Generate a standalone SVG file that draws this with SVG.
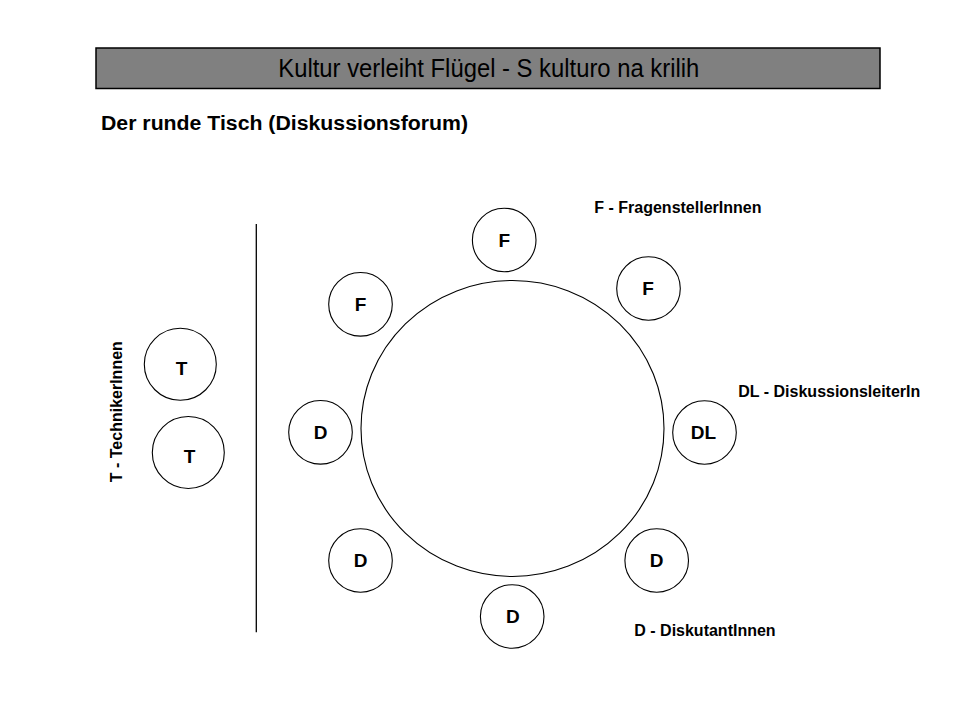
<svg xmlns="http://www.w3.org/2000/svg" width="960" height="720" viewBox="0 0 960 720">
  <style>
    .seat { fill: #ffffff; stroke: #000000; stroke-width: 1.1; }
    .table { fill: #ffffff; stroke: #000000; stroke-width: 1.1; }
    .lbl { font-family: "Liberation Sans", Arial, sans-serif; font-weight: bold; font-size: 19px; fill: #000000; text-anchor: middle; }
    .legend { font-family: "Liberation Sans", Arial, sans-serif; font-weight: bold; font-size: 16px; fill: #000000; }
  </style>
  <rect width="960" height="720" fill="#ffffff"/>

  <g id="title">
    <rect x="96" y="48" width="784" height="40.5" fill="#808080" stroke="#000000" stroke-width="1.5"/>
    <text x="488.8" y="76.7" font-family="Liberation Sans, Arial, sans-serif" font-size="26" fill="#000000" text-anchor="middle" textLength="421" lengthAdjust="spacingAndGlyphs">Kultur verleiht Flügel - S kulturo na krilih</text>
  </g>

  <g id="subtitle">
    <text x="101" y="129.5" font-family="Liberation Sans, Arial, sans-serif" font-weight="bold" font-size="20" fill="#000000" textLength="367" lengthAdjust="spacingAndGlyphs">Der runde Tisch (Diskussionsforum)</text>
  </g>

  <g id="divider">
    <line x1="256.3" y1="224" x2="256.3" y2="632.3" stroke="#000000" stroke-width="1.3"/>
  </g>

  <g id="table">
    <ellipse class="table" cx="512.5" cy="428.5" rx="151.5" ry="148"/>
  </g>

  <g id="seat-f-top">
    <circle class="seat" cx="504.2" cy="240" r="31.8"/>
    <text class="lbl" x="504.2" y="247.2">F</text>
  </g>
  <g id="seat-f-left">
    <circle class="seat" cx="360.5" cy="304.3" r="31.8"/>
    <text class="lbl" x="360.5" y="311.3">F</text>
  </g>
  <g id="seat-f-right">
    <circle class="seat" cx="648.5" cy="288.5" r="31.8"/>
    <text class="lbl" x="648" y="295.2">F</text>
  </g>
  <g id="seat-dl">
    <circle class="seat" cx="704.5" cy="432.5" r="31.8"/>
    <text class="lbl" x="703.5" y="439.2">DL</text>
  </g>
  <g id="seat-d-left">
    <circle class="seat" cx="320.5" cy="432.3" r="31.8"/>
    <text class="lbl" x="320.7" y="439.3">D</text>
  </g>
  <g id="seat-d-lowerleft">
    <circle class="seat" cx="360.5" cy="560.5" r="31.8"/>
    <text class="lbl" x="360.5" y="567.3">D</text>
  </g>
  <g id="seat-d-bottom">
    <circle class="seat" cx="512.2" cy="616.5" r="31.8"/>
    <text class="lbl" x="512.8" y="623.3">D</text>
  </g>
  <g id="seat-d-right">
    <circle class="seat" cx="656.7" cy="560.5" r="31.8"/>
    <text class="lbl" x="656.7" y="567.2">D</text>
  </g>

  <g id="tech-1">
    <circle class="seat" cx="180.3" cy="364.3" r="36"/>
    <text class="lbl" x="181.6" y="375">T</text>
  </g>
  <g id="tech-2">
    <circle class="seat" cx="188.3" cy="452.5" r="36"/>
    <text class="lbl" x="189.5" y="463.3">T</text>
  </g>

  <g id="legend">
    <text class="legend" x="594.3" y="213">F - FragenstellerInnen</text>
    <text class="legend" x="738.3" y="397.3">DL - DiskussionsleiterIn</text>
    <text class="legend" x="634.3" y="636">D - DiskutantInnen</text>
    <text class="legend" x="122.5" y="411.7" text-anchor="middle" transform="rotate(-90 122.5 411.7)">T - TechnikerInnen</text>
  </g>

  <g id="connectors"></g>
</svg>
